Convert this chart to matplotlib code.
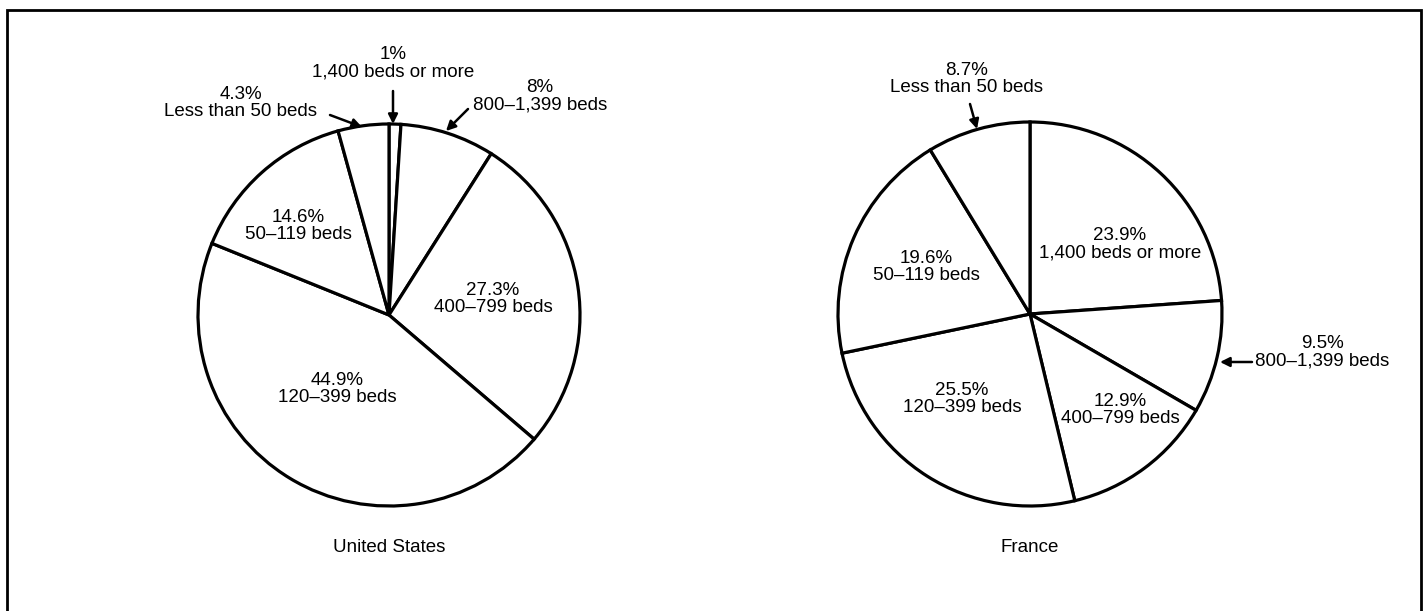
import matplotlib
matplotlib.use("Agg")
import matplotlib.pyplot as plt

plt.rcParams['font.family'] = ['Liberation Sans', 'DejaVu Sans']

W, H = 1427, 611

# hospital size distribution, share of beds (%)
us_pct = [1, 8, 27.3, 44.9, 14.6, 4.3]
us_names = ['1,400 beds or more', '800\u20131,399 beds', '400\u2013799 beds',
            '120\u2013399 beds', '50\u2013119 beds', 'Less than 50 beds']
fr_pct = [23.9, 9.5, 12.9, 25.5, 19.6, 8.7]
fr_names = ['1,400 beds or more', '800\u20131,399 beds', '400\u2013799 beds',
            '120\u2013399 beds', '50\u2013119 beds', 'Less than 50 beds']

# label layout in pixels (x, y from top); arrow = (tail, head) or None
us_lab = [(393, 63), (540, 96), (493, 299), (337, 389), (298, 226), (241, 103)]
us_arr = [((393, 91), (393, 124)), ((468, 109), (446, 131)), None, None, None,
          ((330, 115), (362, 127))]
fr_lab = [(1120, 244), (1322, 352), (1120, 410), (962, 399), (926, 267), (967, 79)]
fr_arr = [None, ((1252, 362), (1220, 362)), None, None, None,
          ((970, 104), (977, 129))]

fig = plt.figure(figsize=(W / 100, H / 100), dpi=100)
ax = fig.add_axes([0, 0, 1, 1])


def draw_pie(vals, names, labs, arrs, cx, cy, r, title):
    ax.pie(vals, startangle=90, counterclock=False, center=(cx, H - cy), radius=r,
           colors=['white'] * len(vals),
           wedgeprops=dict(edgecolor='black', linewidth=2.3))
    for v, n, (lx, ly), a in zip(vals, names, labs, arrs):
        ax.text(lx, H - ly, f'{v:g}%\n{n}', ha='center', va='center',
                fontsize=13.5, linespacing=1.05)
        if a:
            (tx, ty), (hx, hy) = a
            ax.annotate('', xy=(hx, H - hy), xytext=(tx, H - ty),
                        arrowprops=dict(arrowstyle='-|>', color='black', lw=1.8,
                                        mutation_scale=14, shrinkA=0, shrinkB=0))
    ax.text(cx, H - 548, title, ha='center', va='center', fontsize=13.5)


draw_pie(us_pct, us_names, us_lab, us_arr, 389, 315, 191, 'United States')
draw_pie(fr_pct, fr_names, fr_lab, fr_arr, 1030, 314, 192, 'France')

ax.set_xlim(0, W)
ax.set_ylim(0, H)
ax.axis('off')

# frame of the figure page (open at the bottom)
ax.plot([7, 7, 1421, 1421], [0, H - 10, H - 10, 0], color='black', lw=2,
        solid_joinstyle='miter')

fig.savefig('out.png', dpi=100)
